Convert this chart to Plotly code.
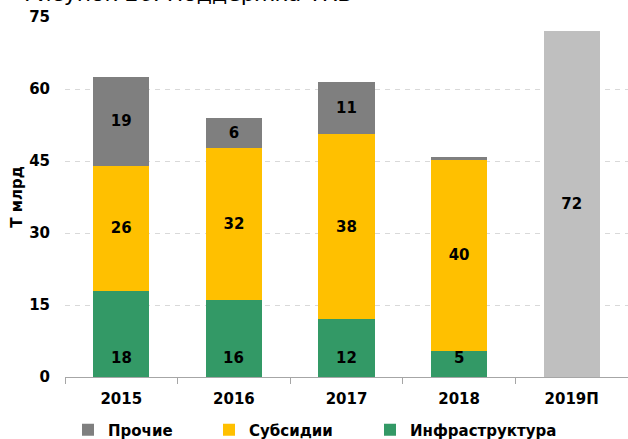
import plotly.graph_objects as go

categories = ["2015", "2016", "2017", "2018", "2019П"]
infra = [17.9, 16.0, 12.1, 5.4, None]
subsidies = [26.1, 31.7, 38.5, 40.0, None]
other = [18.6, 6.3, 10.9, 0.4, None]
forecast_total = [None, None, None, None, 72.0]

infra_labels = ["18", "16", "12", "5", ""]
subs_labels = ["26", "32", "38", "40", ""]
other_labels = ["19", "6", "11", "", ""]
forecast_labels = ["", "", "", "", "72"]

y_ticks = [0, 15, 30, 45, 60, 75]

FONT = "DejaVu Sans"
C_OTHER = "#7F7F7F"
C_SUBS = "#FFC000"
C_INFRA = "#339966"
C_FORE = "#BFBFBF"
BOLD15 = dict(family=FONT, size=15, color="black", weight="bold")

fig = go.Figure()

fig.add_trace(go.Bar(
    x=categories, y=infra, name="Инфраструктура", marker_color=C_INFRA,
    marker_line_width=0, legend="legend3",
))
fig.add_trace(go.Bar(
    x=categories, y=subsidies, name="Субсидии", marker_color=C_SUBS,
    marker_line_width=0, text=subs_labels, textposition="inside",
    insidetextanchor="middle", legend="legend2",
))
fig.add_trace(go.Bar(
    x=categories, y=other, name="Прочие", marker_color=C_OTHER,
    marker_line_width=0, text=other_labels, textposition="inside",
    insidetextanchor="middle", legend="legend",
))
fig.add_trace(go.Bar(
    x=categories, y=forecast_total, name="Прогноз", marker_color=C_FORE,
    marker_line_width=0, text=forecast_labels, textposition="inside",
    insidetextanchor="middle", showlegend=False,
))

fig.update_traces(
    textfont=BOLD15, insidetextfont=BOLD15,
    textangle=0, constraintext="none",
)

# infrastructure labels near the base of the bars
for i, lab in enumerate(infra_labels):
    if lab:
        fig.add_annotation(
            x=i, y=0, xref="x", yref="y", text=lab, showarrow=False,
            yanchor="bottom", yshift=8, font=BOLD15,
        )

# chart caption (cut off at the top edge, as in the reference)
fig.add_annotation(
    text="Рисунок 26. Поддержка ТКВ", xref="paper", yref="paper",
    x=(22 - 65) / 563, xanchor="left", y=1 + 24 / 360, yanchor="middle",
    showarrow=False, font=dict(family=FONT, size=22, color="black"),
)


def leg(text_x):
    return dict(
        orientation="h", xref="container", yref="container",
        x=(text_x - 40) / 628, xanchor="left", y=9 / 439, yanchor="middle",
        font=BOLD15, itemwidth=30, bgcolor="rgba(0,0,0,0)",
    )


fig.update_layout(
    barmode="stack",
    bargap=0.5,
    width=628, height=439,
    margin=dict(l=65, r=0, t=17, b=62),
    paper_bgcolor="white", plot_bgcolor="white",
    font=dict(family=FONT, size=15, color="black"),
    showlegend=True,
    legend=leg(108),
    legend2=leg(249),
    legend3=leg(410),
    xaxis=dict(
        type="category", range=[-0.5, 4.5],
        showline=True, linecolor="#A6A6A6", linewidth=1,
        ticks="outside", tickson="boundaries", ticklen=6, tickcolor="#A6A6A6",
        tickfont=BOLD15, ticklabelstandoff=8,
        showgrid=False,
    ),
    yaxis=dict(
        range=[0, 75], tickvals=y_ticks, ticktext=[str(v) for v in y_ticks],
        showgrid=True, gridcolor="#D9D9D9", griddash="5px,5px", gridwidth=1,
        zeroline=False, showline=False, ticks="",
        tickfont=BOLD15, ticklabelstandoff=14,
        title=dict(text="Т млрд", standoff=2, font=BOLD15),
    ),
)

fig.write_html(
    "out.html",
    config={"displayModeBar": False},
    post_script="document.body.style.margin='0px';",
)
